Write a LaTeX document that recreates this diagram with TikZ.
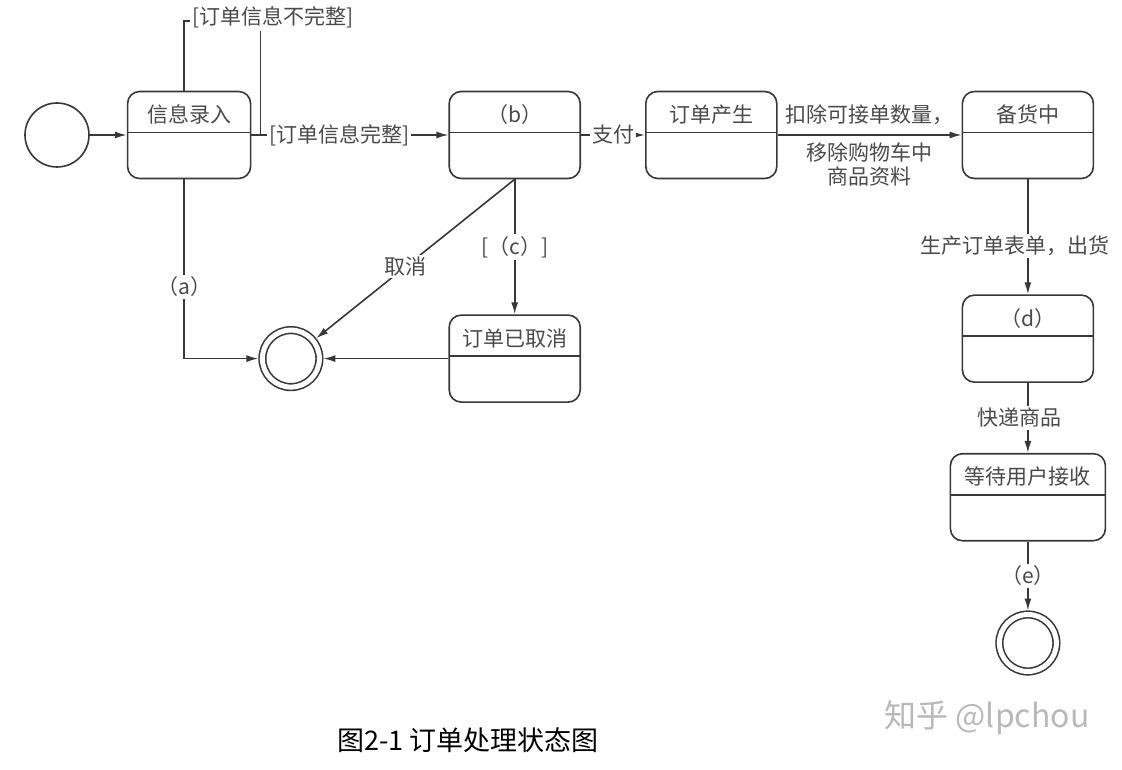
\documentclass[tikz,border=0pt]{standalone}
\usepackage{fontspec}
\setmainfont{Noto Sans CJK SC}
\usepackage{tikz}
\usetikzlibrary{positioning, arrows.meta}

\definecolor{linec}{HTML}{383838}
\definecolor{textc}{HTML}{4A4A4A}

\tikzset{
  state/.style={draw, rounded corners=12pt, minimum width=131pt, inner xsep=4pt, inner ysep=0pt,
    text height=31pt, text depth=56pt,
    path picture={\draw ([yshift=-41pt]path picture bounding box.north west) -- ([yshift=-41pt]path picture bounding box.north east);}},
  pseudo/.style={circle, draw, minimum size=64pt, inner sep=0pt},
  final/.style={circle, draw, double=white, double distance=5pt, minimum size=57pt, inner sep=0pt, outer sep=4pt},
  guard/.style={fill=white, inner sep=2pt}
}

\begin{document}
\begin{tikzpicture}[x=1pt, y=1pt, line width=1.6pt, color=linec, text=textc,
  >={Latex[length=12pt,width=7pt]}, font=\fontsize{21pt}{24pt}\selectfont]
\fill[white] (0,0) rectangle (1122,-770);
\useasboundingbox (0,0) rectangle (1122,-770);

% States along the top
\node[pseudo] (start) at (57,-135) {};
\node[state, minimum width=123pt, right=37pt of start] (info) {信息录入};
\node[state, right=197pt of info] (b) {（b）};
\node[state, right=64pt of b] (created) {订单产生};
\node[state, right=184pt of created] (stock) {备货中};

% States going down
\node[state, below=115pt of stock] (d) {（d）};
\node[state, minimum width=155pt, below=70pt of d] (wait) {等待用户接收};
\node[final, below=69pt of wait] (final2) {};

% Cancel branch
\node[state, below=135pt of b] (cancelled) {订单已取消};
\node[final, left=125pt of cancelled] (final1) {};

% Entry and guards around the entry state
\draw[->] (start) -- (info);
\coordinate[right=9pt of info.east] (join);
\node[guard] (incomplete) at (273,-17) {[订单信息不完整]};
\draw ([xshift=-5pt]info.north) |- ([yshift=-4pt]incomplete.west);
\draw (incomplete.south -| join) -- (join);
\draw[->] (info.east) -- (join) -- node[guard, pos=0.42] (complete) {[订单信息完整]} (b);

% Main flow
\draw[->] (b) -- node[guard] (pay) {支付} (created);
\draw[->] (created) -- node[above=6pt] (deduct) {扣除可接单数量，}
  node[below=4pt, align=center] (remove) {移除购物车中\\商品资料} (stock);
\draw[->] (stock) -- node[guard, pos=0.58, xshift=-13pt] (ship) {生产订单表单，出货} (d);
\draw[->] (d) -- node[guard, xshift=-8pt] (express) {快递商品} (wait);
\draw[->] (wait) -- node[guard] (labele) {（e）} (final2);

% Ways to the first final state
\draw[->] (b) -- node[guard] (labelc) {[（c）]} (cancelled);
\draw[->] (b.south) -- node[guard, pos=0.55] (cancel) {取消} (final1);
\draw[->] (cancelled) -- (final1);
\draw[->] ([xshift=-5pt]info.south) |- node[guard, pos=0.3] (labela) {（a）} (final1);

% Caption
\node[text=black, font=\fontsize{27pt}{30pt}\selectfont] (caption) at (468,-740) {图2-1 订单处理状态图};
\node[text=gray!55, font=\fontsize{32pt}{36pt}\selectfont] (mark) at (987,-718) {知乎 @lpchou};
\end{tikzpicture}
\end{document}
